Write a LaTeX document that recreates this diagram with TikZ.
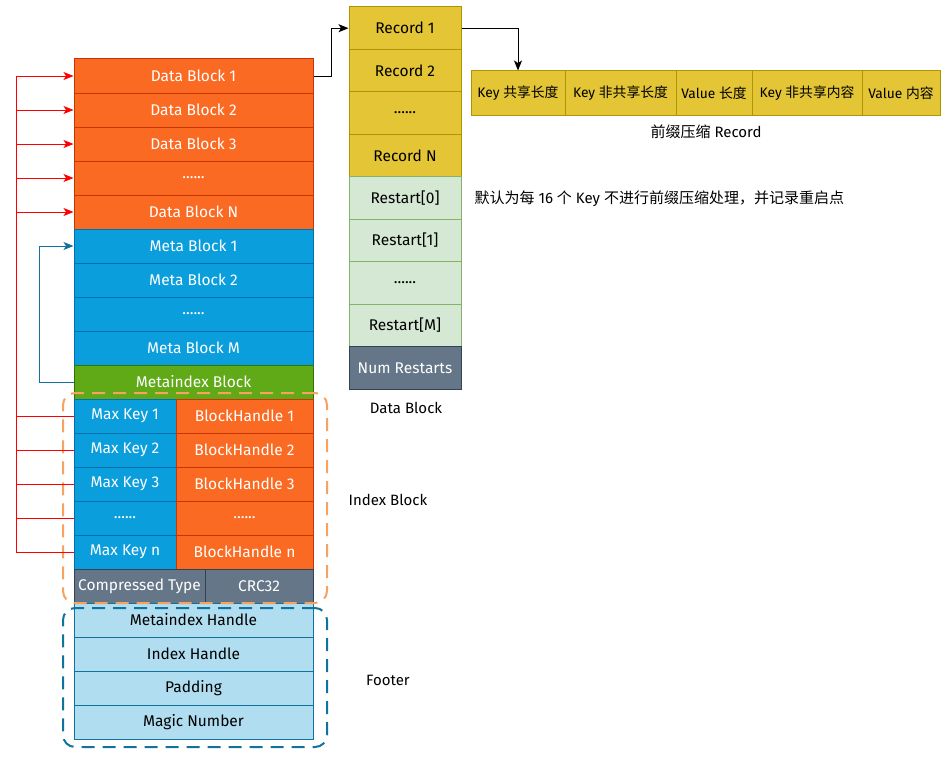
\documentclass[tikz,border=0pt]{standalone}
\usepackage{fontspec}
\setmainfont{Fira Sans}
\newfontfamily\cjk{Noto Sans CJK SC}
\usetikzlibrary{arrows.meta}
\definecolor{orF}{HTML}{FA6A22}
\definecolor{orS}{HTML}{C73500}
\definecolor{blF}{HTML}{0A9EDC}
\definecolor{blS}{HTML}{006EAF}
\definecolor{grF}{HTML}{60A917}
\definecolor{grS}{HTML}{2D7600}
\definecolor{gyF}{HTML}{647687}
\definecolor{gyS}{HTML}{314354}
\definecolor{ftF}{HTML}{B1DDF0}
\definecolor{ftS}{HTML}{10739E}
\definecolor{yeF}{HTML}{E4C536}
\definecolor{yeS}{HTML}{B09500}
\definecolor{lgF}{HTML}{D5E8D4}
\definecolor{lgS}{HTML}{82B366}
\definecolor{arRed}{HTML}{FF0000}
\definecolor{arBlue}{HTML}{10739E}
\definecolor{dashOr}{HTML}{F5A263}
\begin{document}
\begin{tikzpicture}[x=1pt,y=-1pt,
  cell/.style={draw, line width=1pt, inner sep=0pt, font=\fontsize{15.5}{18}\selectfont, text=white},
  wide/.style={cell, minimum width=239pt, minimum height=34pt},
  dcell/.style={cell, minimum width=112pt, minimum height=42.44pt, text=black, font=\fontsize{15.5}{18}\selectfont},
  rcell/.style={cell, minimum height=44pt, text=black, fill=yeF, draw=yeS, font=\fontsize{13.8}{16}\selectfont},
  orb/.style={fill=orF, draw=orS},
  blb/.style={fill=blF, draw=blS},
  gyb/.style={fill=gyF, draw=gyS},
  ftb/.style={fill=ftF, draw=ftS, text=black},
  lbl/.style={font=\fontsize{15}{18}\selectfont, text=black},
  tip/.style={-{Stealth[length=10pt,width=8pt,inset=2.5pt]}},
  redarr/.style={arRed, line width=1pt, tip},
  redline/.style={arRed, line width=1pt},
  bluearr/.style={arBlue, line width=1pt, tip},
  blackarr/.style={black, line width=1pt, tip},
  grp/.style={draw, line width=2pt, dash pattern=on 13pt off 8pt, rounded corners=12pt, fill=none, inner sep=0pt}
]
\useasboundingbox (0,0) rectangle (950,760);

% left column
\node[wide,orb] (db1) at (193.5,76) {Data Block 1};
\node[wide,orb] (db2) at (193.5,110) {Data Block 2};
\node[wide,orb] (db3) at (193.5,144) {Data Block 3};
\node[wide,orb] (dbd) at (193.5,178) {......};
\node[wide,orb] (dbn) at (193.5,212) {Data Block N};
\node[wide,blb] (mb1) at (193.5,246) {Meta Block 1};
\node[wide,blb] (mb2) at (193.5,280) {Meta Block 2};
\node[wide,blb] (mbd) at (193.5,314) {......};
\node[wide,blb] (mbm) at (193.5,348) {Meta Block M};
\node[wide,fill=grF,draw=grS] (mib) at (193.5,382) {Metaindex Block};

\foreach \i/\y/\t in {1/416/1,2/450/2,3/484/3,n/552/n}{
  \node[cell,blb,minimum width=102pt,minimum height=34pt] (mk\i) at (125,\y) {Max Key \t};
  \node[cell,orb,minimum width=137pt,minimum height=34pt] (bh\i) at (244.5,\y) {BlockHandle \t};
}
\node[cell,blb,minimum width=102pt,minimum height=34pt] (mkd) at (125,518) {......};
\node[cell,orb,minimum width=137pt,minimum height=34pt] (bhd) at (244.5,518) {......};
\node[cell,gyb,minimum width=131pt,minimum height=34pt] (ct) at (139.5,586) {Compressed Type};
\node[cell,gyb,minimum width=108pt,minimum height=34pt] (crc) at (259,586) {CRC32};

\node[wide,ftb] (fmh) at (193.5,620) {Metaindex Handle};
\node[wide,ftb] (fih) at (193.5,654) {Index Handle};
\node[wide,ftb] (fpd) at (193.5,688) {Padding};
\node[wide,ftb] (fmn) at (193.5,722) {Magic Number};

% dashed groups
\node[grp, draw=dashOr, minimum width=264pt, minimum height=210pt] (idxgrp) at (195,498) {};
\node[grp, draw=ftS, minimum width=264pt, minimum height=139pt] (ftgrp) at (195,677.5) {};

% right column (data block detail)
\node[dcell,fill=yeF,draw=yeS] (r1) at (405,28.2) {Record 1};
\node[dcell,fill=yeF,draw=yeS] (r2) at (405,70.7) {Record 2};
\node[dcell,fill=yeF,draw=yeS] (rd) at (405,113.1) {......};
\node[dcell,fill=yeF,draw=yeS] (rn) at (405,155.5) {Record N};
\node[dcell,fill=lgF,draw=lgS] (rs0) at (405,198) {Restart[0]};
\node[dcell,fill=lgF,draw=lgS] (rs1) at (405,240.4) {Restart[1]};
\node[dcell,fill=lgF,draw=lgS] (rsd) at (405,282.9) {......};
\node[dcell,fill=lgF,draw=lgS] (rsm) at (405,325.3) {Restart[M]};
\node[dcell,gyb,text=white] (nrs) at (405,367.8) {Num Restarts};

% record row
\node[rcell,minimum width=94pt] (k1) at (518,93) {Key {\cjk 共享长度}};
\node[rcell,minimum width=111pt] (k2) at (620.5,93) {Key {\cjk 非共享长度}};
\node[rcell,minimum width=76pt] (k3) at (714,93) {Value {\cjk 长度}};
\node[rcell,minimum width=110pt] (k4) at (807,93) {Key {\cjk 非共享内容}};
\node[rcell,minimum width=78pt] (k5) at (901,93) {Value {\cjk 内容}};

% labels
\node[lbl] (lrec) at (706,132) {{\cjk 前缀压缩} Record};
\node[lbl,anchor=west] (lrs) at (471,199) {{\cjk 默认为每} 16 {\cjk 个} Key {\cjk 不进行前缀压缩处理，并记录重启点}};
\node[lbl] (ldb) at (406,408) {Data Block};
\node[lbl] (lib) at (388,500) {Index Block};
\node[lbl] (lft) at (388,680) {Footer};

% connectors
\coordinate (bus) at (16,0);
\draw[redline] (bus|-db1.west) -- (bus|-mkn.west);
\foreach \n in {db1,db2,db3,dbd,dbn}{\draw[redarr] (bus|-\n.west) -- (\n.west);}
\foreach \n in {mk1,mk2,mk3,mkd,mkn}{\draw[redline] (bus|-\n.west) -- (\n.west);}
\draw[bluearr] (mib.west) -- ++(-34,0) |- (mb1.west);
\draw[blackarr] (db1.east) -- ++(18,0) |- (r1.west);
\draw[blackarr] (r1.east) -| (k1.north);
\end{tikzpicture}
\end{document}
